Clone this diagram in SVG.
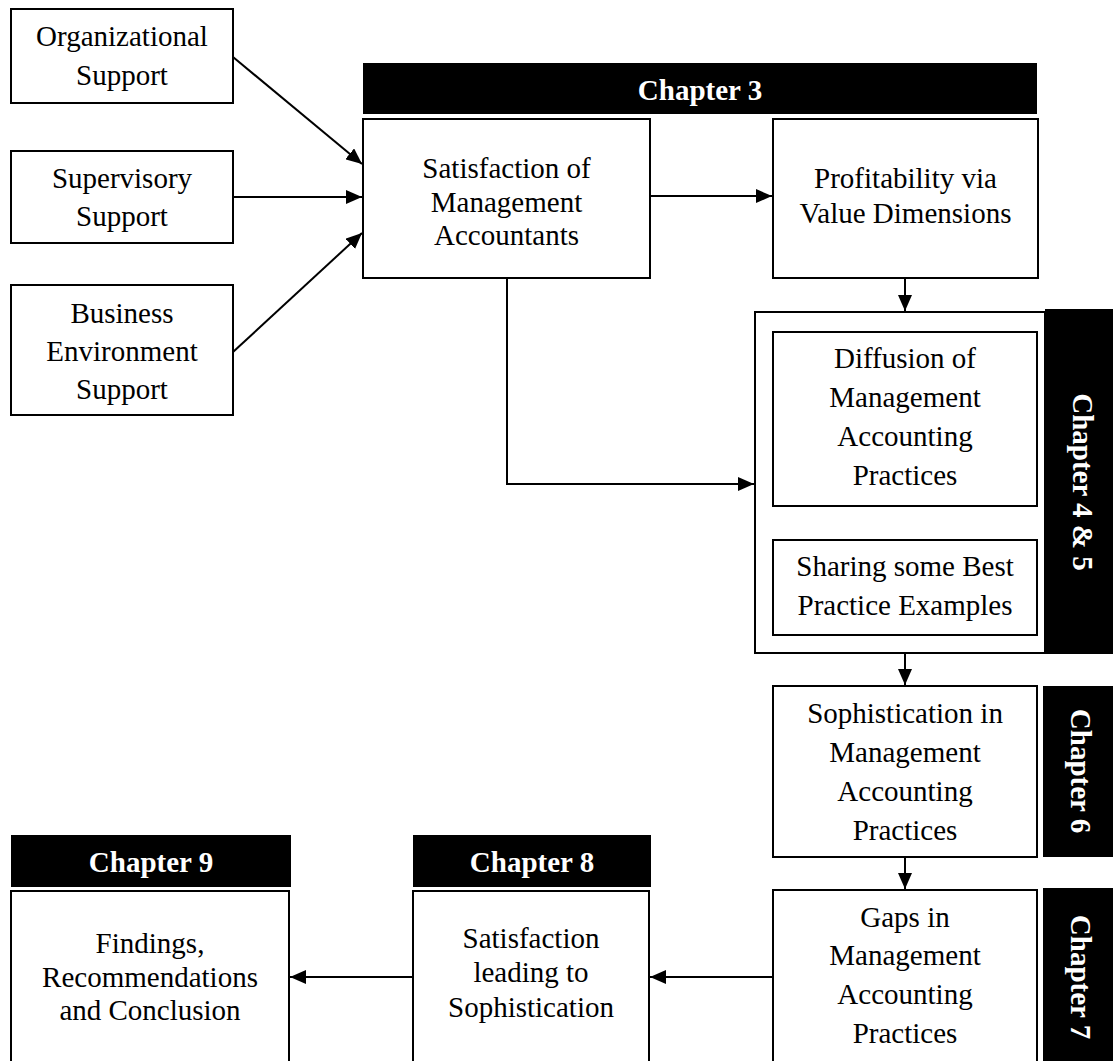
<svg xmlns="http://www.w3.org/2000/svg" width="1113" height="1061" viewBox="0 0 1113 1061">
  <style>
    .box { fill: #fff; stroke: #000; stroke-width: 2; }
    .bar { fill: #000; }
    .lbl { font-family: "Liberation Serif", "Times New Roman", serif; font-size: 29px; fill: #000; text-anchor: middle; }
    .chap { font-family: "Liberation Serif", "Times New Roman", serif; font-size: 29px; font-weight: bold; fill: #fff; text-anchor: middle; }
    .wire { fill: none; stroke: #000; stroke-width: 2; }
  </style>
  <defs>
    <marker id="arrow" markerUnits="userSpaceOnUse" markerWidth="16" markerHeight="14" refX="16" refY="7" orient="auto">
      <path d="M0,0 L16,7 L0,14 z" fill="#000"/>
    </marker>
  </defs>
  <rect width="1113" height="1061" fill="#fff"/>

  <!-- chapter banners -->
  <g id="chapter-3">
    <rect class="bar" x="363" y="63" width="674" height="51"/>
    <text class="chap" x="700" y="100">Chapter 3</text>
  </g>
  <g id="chapter-4-5">
    <rect class="box" x="755" y="312" width="290" height="341"/>
    <rect class="bar" x="1045" y="309" width="68" height="345"/>
    <text class="chap" transform="translate(1073,482) rotate(90)">Chapter 4 &amp; 5</text>
  </g>
  <g id="chapter-6">
    <rect class="bar" x="1043" y="686" width="70" height="171"/>
    <text class="chap" transform="translate(1071,771) rotate(90)">Chapter 6</text>
  </g>
  <g id="chapter-7">
    <rect class="bar" x="1043" y="888" width="70" height="180"/>
    <text class="chap" transform="translate(1071,977) rotate(90)">Chapter 7</text>
  </g>
  <g id="chapter-8">
    <rect class="bar" x="413" y="835" width="238" height="52"/>
    <text class="chap" x="532" y="872">Chapter 8</text>
  </g>
  <g id="chapter-9">
    <rect class="bar" x="11" y="835" width="280" height="52"/>
    <text class="chap" x="151" y="872">Chapter 9</text>
  </g>

  <!-- support nodes -->
  <g id="organizational-support">
    <rect class="box" x="11" y="9" width="222" height="94"/>
    <text class="lbl" x="122" y="46">Organizational</text>
    <text class="lbl" x="122" y="85">Support</text>
  </g>
  <g id="supervisory-support">
    <rect class="box" x="11" y="151" width="222" height="92"/>
    <text class="lbl" x="122" y="188">Supervisory</text>
    <text class="lbl" x="122" y="226">Support</text>
  </g>
  <g id="business-environment-support">
    <rect class="box" x="11" y="285" width="222" height="130"/>
    <text class="lbl" x="122" y="323">Business</text>
    <text class="lbl" x="122" y="361">Environment</text>
    <text class="lbl" x="122" y="399">Support</text>
  </g>

  <!-- main flow -->
  <g id="satisfaction-of-management-accountants">
    <rect class="box" x="363" y="119" width="287" height="159"/>
    <text class="lbl" x="506.5" y="178">Satisfaction of</text>
    <text class="lbl" x="506.5" y="212">Management</text>
    <text class="lbl" x="506.5" y="245">Accountants</text>
  </g>
  <g id="profitability-via-value-dimensions">
    <rect class="box" x="773" y="119" width="265" height="159"/>
    <text class="lbl" x="905.5" y="188">Profitability via</text>
    <text class="lbl" x="905.5" y="223">Value Dimensions</text>
  </g>
  <g id="diffusion-of-practices">
    <rect class="box" x="773" y="332" width="264" height="174"/>
    <text class="lbl" x="905" y="368">Diffusion of</text>
    <text class="lbl" x="905" y="407">Management</text>
    <text class="lbl" x="905" y="446">Accounting</text>
    <text class="lbl" x="905" y="485">Practices</text>
  </g>
  <g id="best-practice-examples">
    <rect class="box" x="773" y="540" width="264" height="95"/>
    <text class="lbl" x="905" y="576">Sharing some Best</text>
    <text class="lbl" x="905" y="615">Practice Examples</text>
  </g>
  <g id="sophistication-in-practices">
    <rect class="box" x="773" y="686" width="264" height="171"/>
    <text class="lbl" x="905" y="723">Sophistication in</text>
    <text class="lbl" x="905" y="762">Management</text>
    <text class="lbl" x="905" y="801">Accounting</text>
    <text class="lbl" x="905" y="840">Practices</text>
  </g>
  <g id="gaps-in-practices">
    <rect class="box" x="773" y="890" width="264" height="190"/>
    <text class="lbl" x="905" y="927">Gaps in</text>
    <text class="lbl" x="905" y="965">Management</text>
    <text class="lbl" x="905" y="1004">Accounting</text>
    <text class="lbl" x="905" y="1043">Practices</text>
  </g>
  <g id="satisfaction-leading-to-sophistication">
    <rect class="box" x="413" y="891" width="236" height="190"/>
    <text class="lbl" x="531" y="948">Satisfaction</text>
    <text class="lbl" x="531" y="982">leading to</text>
    <text class="lbl" x="531" y="1017">Sophistication</text>
  </g>
  <g id="findings-recommendations-conclusion">
    <rect class="box" x="11" y="891" width="278" height="190"/>
    <text class="lbl" x="150" y="953">Findings,</text>
    <text class="lbl" x="150" y="987">Recommendations</text>
    <text class="lbl" x="150" y="1020">and Conclusion</text>
  </g>

  <!-- connectors -->
  <g id="connectors">
    <line class="wire" x1="233" y1="57" x2="362" y2="164" marker-end="url(#arrow)"/>
    <line class="wire" x1="233" y1="197" x2="362" y2="197" marker-end="url(#arrow)"/>
    <line class="wire" x1="233" y1="352" x2="362" y2="233" marker-end="url(#arrow)"/>
    <line class="wire" x1="650" y1="196" x2="772" y2="196" marker-end="url(#arrow)"/>
    <line class="wire" x1="905" y1="278" x2="905" y2="311" marker-end="url(#arrow)"/>
    <polyline class="wire" points="507,278 507,484 754,484" marker-end="url(#arrow)"/>
    <line class="wire" x1="905" y1="653" x2="905" y2="685" marker-end="url(#arrow)"/>
    <line class="wire" x1="905" y1="857" x2="905" y2="889" marker-end="url(#arrow)"/>
    <line class="wire" x1="773" y1="977" x2="650" y2="977" marker-end="url(#arrow)"/>
    <line class="wire" x1="413" y1="977" x2="290" y2="977" marker-end="url(#arrow)"/>
  </g>
</svg>
